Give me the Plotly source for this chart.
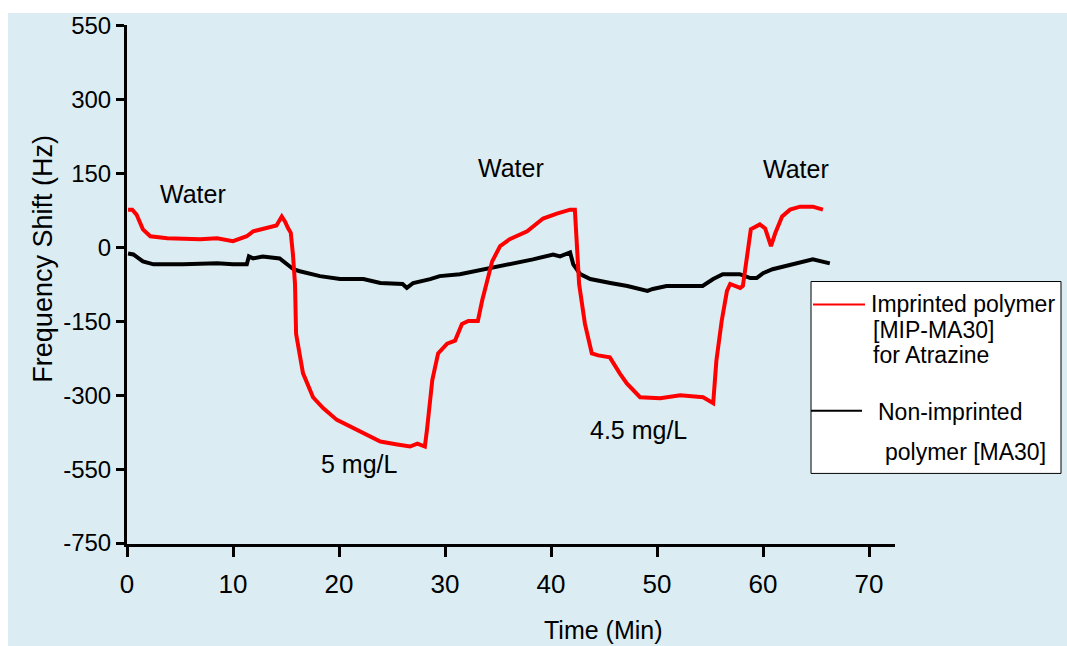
import plotly.graph_objects as go

# Imprinted polymer [MIP-MA30] response (time in min, frequency shift in axis units)
time_mip = [0.1, 0.5, 0.9, 1.5, 2.2, 3.8, 6.9, 8.5, 10.0, 11.3, 11.9, 13.2, 14.1, 14.6,
            14.9, 15.2, 15.45, 15.65, 15.85, 15.95, 16.6, 17.55, 18.5, 19.8, 21.7, 23.9,
            25.5, 26.7, 27.4, 28.1, 28.3, 28.8, 29.35, 30.2, 30.95, 31.6, 32.2, 33.1,
            33.5, 33.95, 34.45, 35.2, 36.1, 37.75, 39.25, 40.55, 41.8, 42.25, 42.65,
            43.2, 43.85, 44.45, 45.55, 46.5, 47.15, 48.4, 50.3, 52.2, 54.35, 55.3, 55.6,
            56.1, 56.6, 56.9, 57.85, 58.1, 58.5, 58.85, 59.7, 60.2, 60.75, 61.15, 61.8,
            62.55, 63.5, 64.7, 65.65]
shift_mip = [77, 77, 67, 37, 23, 19, 17, 19, 13, 23, 33, 39, 45, 63,
             53, 39, 30, -13, -74, -175, -255, -304, -326, -350, -370, -394,
             -400, -404, -398, -404, -370, -269, -215, -195, -189, -155, -149, -149,
             -108, -68, -28, 3, 17, 33, 59, 69, 77, 77, -74,
             -155, -215, -219, -223, -256, -276, -304, -306, -300, -304, -316, -230,
             -149, -88, -74, -82, -78, -8, 37, 47, 39, 3, 29, 63,
             77, 83, 83, 77]

# Non-imprinted polymer [MA30] response
time_nip = [0.1, 0.6, 1.5, 2.5, 5.3, 8.5, 10.0, 11.3, 11.5, 11.9, 12.8, 14.4, 15.1,
            15.7, 16.3, 18.2, 20.1, 22.3, 23.9, 26.0, 26.4, 27.0, 28.6, 29.5, 31.4,
            33.3, 34.5, 36.4, 38.3, 40.2, 40.85, 41.8, 42.1, 42.75, 43.7, 45.6, 47.2,
            49.1, 49.6, 50.9, 52.8, 54.3, 55.3, 56.2, 57.8, 58.8, 59.4, 60.0, 60.9,
            62.8, 64.7, 66.3]
shift_nip = [-12, -14, -28, -34, -34, -32, -34, -34, -18, -22, -18, -22, -34,
             -44, -48, -58, -64, -64, -72, -74, -82, -72, -64, -58, -54,
             -46, -42, -32, -24, -14, -18, -10, -34, -54, -64, -72, -78,
             -88, -84, -78, -78, -78, -64, -54, -54, -62, -62, -52, -44,
             -34, -24, -32]

x_ticks = [0, 10, 20, 30, 40, 50, 60, 70]
y_tick_pos = [-600, -450, -300, -150, 0, 150, 300, 450]
y_tick_text = ["-750", "-550", "-300", "-150", "0", "150", "300", "550"]

FONT = "Liberation Sans, Arial, sans-serif"
BG = "#dbedf3"

# plot-area geometry in pixels
L, R, T, B = 127, 895, 22, 544


def px(xp):
    return (xp - L) / (R - L)


def py(yp):
    return (B - yp) / (B - T)


fig = go.Figure()
fig.add_trace(go.Scatter(x=time_nip, y=shift_nip, mode="lines",
                         line=dict(color="black", width=4), showlegend=False))
fig.add_trace(go.Scatter(x=time_mip, y=shift_mip, mode="lines",
                         line=dict(color="#ff0000", width=4), showlegend=False))

shapes = [
    # light-blue panel behind everything
    dict(type="rect", xref="paper", yref="paper", x0=px(8), x1=px(1090),
         y0=py(670), y1=py(10), fillcolor=BG, line=dict(width=0), layer="below"),
    # y-axis line continues a little below the time axis
    dict(type="line", xref="x", yref="paper", x0=0, x1=0, y0=py(557), y1=0,
         line=dict(color="black", width=3)),
    # legend box
    dict(type="rect", xref="paper", yref="paper", x0=px(811), x1=px(1061),
         y0=py(473), y1=py(280), fillcolor="white", line=dict(color="black", width=1)),
    dict(type="line", xref="paper", yref="paper", x0=px(813), x1=px(865),
         y0=py(303), y1=py(303), line=dict(color="#ff0000", width=2)),
    dict(type="line", xref="paper", yref="paper", x0=px(811), x1=px(862),
         y0=py(410), y1=py(410), line=dict(color="black", width=2)),
]

annotations = []
for text, x, y in [("Water", 6.2, 109), ("Water", 36.2, 162), ("Water", 63.1, 160),
                   ("5 mg/L", 21.9, -439), ("4.5 mg/L", 48.25, -370)]:
    annotations.append(dict(text=text, x=x, y=y, xref="x", yref="y", showarrow=False,
                            xanchor="center", yanchor="middle",
                            font=dict(family=FONT, size=25, color="black")))

for text, xl, ym in [("Imprinted polymer", 869, 303), ("[MIP-MA30]", 871, 329),
                     ("for Atrazine", 871, 354), ("Non-imprinted", 876, 411),
                     ("polymer [MA30]", 883, 451)]:
    annotations.append(dict(text=text, x=px(xl), y=py(ym), xref="paper", yref="paper",
                            showarrow=False, xanchor="left", yanchor="middle",
                            font=dict(family=FONT, size=23, color="black")))

annotations.append(dict(text="Time (Min)", x=px(603), y=py(630), xref="paper", yref="paper",
                        showarrow=False, xanchor="center", yanchor="middle",
                        font=dict(family=FONT, size=25, color="black")))
annotations.append(dict(text="Frequency Shift (Hz)", x=px(43), y=py(257), xref="paper",
                        yref="paper", showarrow=False, textangle=-90,
                        xanchor="center", yanchor="middle",
                        font=dict(family=FONT, size=27, color="black")))

fig.update_layout(
    width=1067, height=646, autosize=False,
    margin=dict(l=L, r=1067 - R, t=T, b=646 - B, pad=0),
    paper_bgcolor="white", plot_bgcolor="rgba(0,0,0,0)",
    shapes=shapes, annotations=annotations,
    font=dict(family=FONT, color="black"),
)
fig.update_xaxes(range=[0, 72.45], tickvals=x_ticks, ticks="outside", ticklen=10,
                 tickwidth=3, tickcolor="black", showline=True, linewidth=3,
                 linecolor="black", showgrid=False, zeroline=False,
                 ticklabelstandoff=5,
                 tickfont=dict(family=FONT, size=26, color="black"))
fig.update_yaxes(range=[-602, 452], tickvals=y_tick_pos, ticktext=y_tick_text,
                 ticks="outside", ticklen=8, tickwidth=3, tickcolor="black",
                 showline=True, linewidth=3, linecolor="black", showgrid=False,
                 zeroline=False, ticklabelstandoff=0,
                 tickfont=dict(family=FONT, size=24, color="black"))

fig.write_html("out.html")
